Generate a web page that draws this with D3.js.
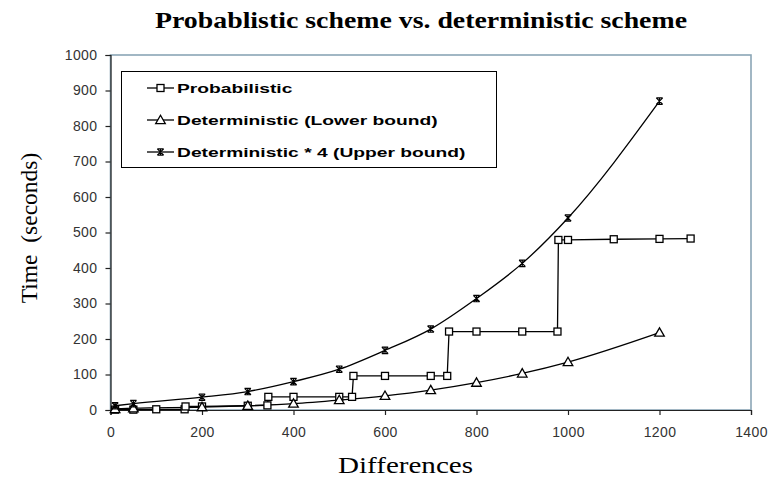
<!DOCTYPE html>
<html><head><meta charset="utf-8">
<script src="https://cdn.jsdelivr.net/npm/d3@7"></script>
<style>body{margin:0;background:#fff}svg{display:block}</style>
</head><body>
<svg id="chart" width="769" height="477"></svg>
<script>
const title = "Probablistic scheme vs. deterministic scheme";
const xTitle = "Differences";
const yTitle = "Time  (seconds)";
const xTicks = [0, 200, 400, 600, 800, 1000, 1200, 1400];
const yTicks = [0, 100, 200, 300, 400, 500, 600, 700, 800, 900, 1000];
const seriesNames = ["Probabilistic", "Deterministic (Lower bound)", "Deterministic * 4 (Upper bound)"];

const probX = [10, 50, 100, 162, 164, 200, 300, 343, 345, 400, 500, 528, 531, 600, 700, 736, 740, 800, 900, 977, 979, 1000, 1100, 1200, 1268];
const probY = [1, 1, 2, 2, 10, 10, 12, 13, 37, 37, 37, 37, 96, 96, 96, 96, 221, 221, 221, 221, 479, 479, 481, 482, 483];
const detX = [10, 50, 200, 300, 400, 500, 600, 700, 800, 900, 1000, 1200];
const detY = [3, 5, 8, 12, 18, 28, 40, 56, 77, 103, 135, 218];
const upX = [10, 50, 200, 300, 400, 500, 600, 700, 800, 900, 1000, 1200];
const upY = [12, 18, 36, 52, 80, 115, 168, 228, 314, 413, 541, 870];

const svg = d3.select("#chart");
const L = 110.5, R = 751, T = 55, B = 410;
const x = d3.scaleLinear().domain([0, 1400]).range([L, R]);
const y = d3.scaleLinear().domain([0, 1000]).range([B, T]);

// plot area border
svg.append("rect").attr("x", L).attr("y", T).attr("width", R - L).attr("height", B - T)
  .attr("fill", "none").attr("stroke", "#8ba6b6").attr("stroke-width", 1.6);

// axes
const yAxis = d3.axisLeft(y).tickValues(yTicks).tickSize(5).tickPadding(8).tickFormat(d3.format("d"));
const gy = svg.append("g").attr("transform", `translate(${L},0)`).call(yAxis);
const xAxis = d3.axisBottom(x).tickValues(xTicks).tickSize(5).tickPadding(12).tickFormat(d3.format("d"));
const gx = svg.append("g").attr("transform", `translate(0,${B})`).call(xAxis);
[gx, gy].forEach(g => {
  g.select(".domain").attr("stroke", "#222").attr("stroke-width", 1.2);
  g.selectAll(".tick line").attr("stroke", "#222").attr("stroke-width", 1.2);
  g.selectAll(".tick text").attr("font-family", "Liberation Sans, Arial, sans-serif")
    .attr("font-size", 14).attr("fill", "#333").attr("letter-spacing", 0.4);
});

// titles (the reference is stretched horizontally, so the texts are fitted to its widths)
svg.append("text").attr("x", 155).attr("y", 28).text(title)
  .attr("textLength", 532).attr("lengthAdjust", "spacingAndGlyphs")
  .attr("font-family", "Liberation Serif, Times New Roman, serif").attr("font-weight", "bold")
  .attr("font-size", 24).attr("fill", "#000");
svg.append("text").attr("x", 338).attr("y", 473).text(xTitle)
  .attr("textLength", 135).attr("lengthAdjust", "spacingAndGlyphs")
  .attr("font-family", "Liberation Serif, Times New Roman, serif").attr("font-size", 23)
  .attr("fill", "#000");
svg.append("text").attr("transform", "translate(37,228) rotate(-90)").attr("text-anchor", "middle")
  .text(yTitle).attr("font-family", "Liberation Serif, Times New Roman, serif").attr("font-size", 23.5)
  .attr("fill", "#000").attr("xml:space", "preserve").style("white-space", "pre");

// marker drawers
function drawMarker(g, type, cx, cy) {
  if (type === 0) {
    g.append("rect").attr("x", cx - 3.5).attr("y", cy - 3.5).attr("width", 7).attr("height", 7)
      .attr("fill", "#fff").attr("stroke", "#000").attr("stroke-width", 1.3);
  } else if (type === 1) {
    const s = 4.8;
    g.append("path").attr("d", `M${cx},${cy - s}L${cx + s},${cy + s * 0.75}L${cx - s},${cy + s * 0.75}Z`)
      .attr("fill", "#fff").attr("stroke", "#000").attr("stroke-width", 1.3);
  } else {
    const s = 3.2;
    g.append("path").attr("d", `M${cx - s},${cy - s}L${cx + s},${cy + s}M${cx + s},${cy - s}L${cx - s},${cy + s}M${cx},${cy - s - 0.5}L${cx},${cy + s + 0.5}M${cx - s},${cy - s}L${cx + s},${cy - s}M${cx - s},${cy + s}L${cx + s},${cy + s}`)
      .attr("fill", "none").attr("stroke", "#000").attr("stroke-width", 1.2);
  }
}

const series = [
  {xs: probX, ys: probY, type: 0, curve: d3.curveLinear},
  {xs: detX, ys: detY, type: 1, curve: d3.curveMonotoneX},
  {xs: upX, ys: upY, type: 2, curve: d3.curveMonotoneX}
];
const plot = svg.append("g");
series.forEach(s => {
  const pts = s.xs.map((v, i) => [v, s.ys[i]]);
  plot.append("path").datum(pts)
    .attr("d", d3.line().x(d => x(d[0])).y(d => y(d[1])).curve(s.curve))
    .attr("fill", "none").attr("stroke", "#000").attr("stroke-width", 1.3);
});
series.forEach(s => {
  const g = plot.append("g");
  s.xs.forEach((v, i) => drawMarker(g, s.type, x(v), y(s.ys[i])));
});

// legend
const lg = svg.append("g");
lg.append("rect").attr("x", 121.5).attr("y", 71.5).attr("width", 375).attr("height", 96)
  .attr("fill", "#fff").attr("stroke", "#000").attr("stroke-width", 1);
seriesNames.forEach((name, i) => {
  const cy = 88 + i * 32;
  lg.append("line").attr("x1", 147).attr("x2", 174).attr("y1", cy).attr("y2", cy)
    .attr("stroke", "#000").attr("stroke-width", 1.3);
  drawMarker(lg, i, 160.5, cy);
  lg.append("text").attr("transform", `translate(177,${cy + 4.5}) scale(1.48,1)`).text(name)
    .attr("font-family", "Liberation Sans, Arial, sans-serif").attr("font-weight", "bold")
    .attr("font-size", 13).attr("fill", "#000");
});
</script>
</body></html>
